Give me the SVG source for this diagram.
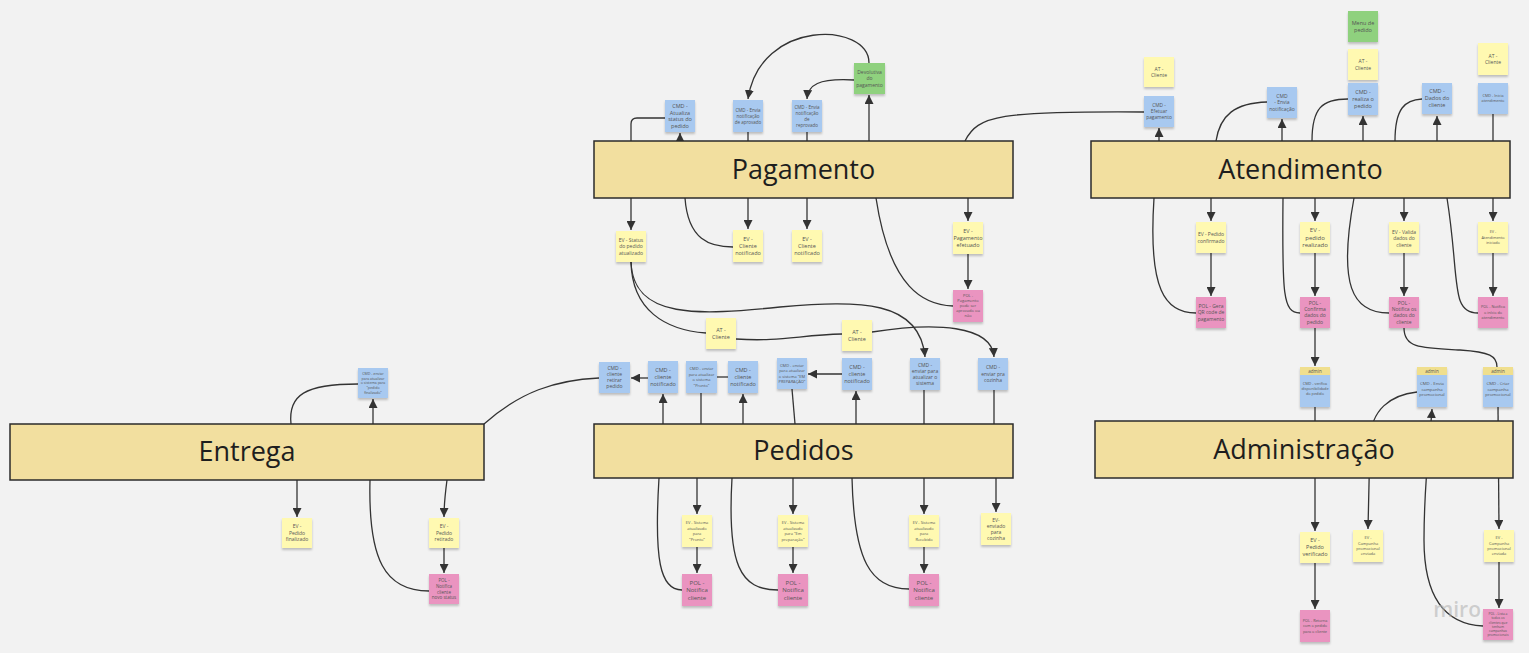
<svg xmlns="http://www.w3.org/2000/svg" width="1529" height="653" viewBox="0 0 1529 653">
<style>
.box{fill:#f2df9f;stroke:#2b2b2b;stroke-width:1.5}
.bt{font-family:"Open Sans","Liberation Sans",sans-serif;font-size:27px;fill:#1e1e1e;text-anchor:middle}
.y{fill:#fff9b1;filter:url(#sh)}
.b{fill:#a8c9f0;filter:url(#sh)}
.p{fill:#ea94c0;filter:url(#sh)}
.g{fill:#8fd17e;filter:url(#sh)}
.h{fill:#f0df8e}
.t{font-family:"Open Sans","Liberation Sans",sans-serif;fill:#555;text-anchor:middle}
.c path{fill:none;stroke:#333;stroke-width:1.3}
.c .a{marker-end:url(#ar)}
</style>
<defs>
<filter id="sh" x="-20%" y="-20%" width="140%" height="150%">
<feDropShadow dx="0" dy="2" stdDeviation="1.2" flood-color="#000" flood-opacity="0.22"/>
</filter>
<marker id="ar" markerUnits="userSpaceOnUse" markerWidth="9" markerHeight="9" refX="9" refY="4.5" orient="auto">
<path d="M0,0 L9,4.5 L0,9 z" fill="#333"/>
</marker>
</defs>
<rect width="1529" height="653" fill="#f2f2f2"/>

<g class="c" id="connectors">
<path d="M631,141 L631,124 Q631,118 637,118 L665,118"/>
<path class="a" d="M680,141 L680,133"/>
<path d="M748,132 L748,141"/>
<path d="M807,132 L807,141"/>
<path class="a" d="M869,141 L869,95"/>
<path class="a" d="M869,63 C869,22 760,18 748,99"/>
<path class="a" d="M854,80 C818,78 808,85 807,99"/>
<path class="a" d="M631,198 L631,230"/>
<path d="M685,198 C688,240 710,247 733,247"/>
<path class="a" d="M748,198 L748,229"/>
<path class="a" d="M807,198 L807,229"/>
<path d="M876,198 C890,290 925,305 953,306"/>
<path class="a" d="M968,198 L968,221"/>
<path class="a" d="M968,254 L968,289"/>
<path class="a" d="M631,262 C633,320 700,315 780,307 C860,300 920,300 925,357"/>
<path d="M631,262 C632,310 665,330 706,333"/>
<path d="M736,339 C780,342 800,335 842,334"/>
<path class="a" d="M872,332 C935,322 992,325 994,357"/>
<path d="M484,424 C520,392 555,380 599,378"/>
<path class="a" d="M648,378 L631,378"/>
<path class="a" d="M663,424 L663,394"/>
<path d="M701,424 L701,393"/>
<path d="M717,377 L728,377"/>
<path class="a" d="M743,424 L743,394"/>
<path d="M795,424 L792,389"/>
<path class="a" d="M842,374 L808,374"/>
<path class="a" d="M856,424 L856,391"/>
<path d="M924,424 L924,390"/>
<path d="M994,424 L994,390"/>
<path class="a" d="M697,478 L697,514"/>
<path class="a" d="M697,547 L697,573"/>
<path class="a" d="M793,478 L793,514"/>
<path class="a" d="M793,547 L793,573"/>
<path class="a" d="M924,478 L924,514"/>
<path class="a" d="M924,547 L924,573"/>
<path class="a" d="M996,478 L996,512"/>
<path d="M659,478 C654,560 660,590 682,590"/>
<path d="M732,478 C727,565 740,590 778,590"/>
<path d="M852,478 C854,560 870,589 909,589"/>
<path d="M291,424 C288,395 305,384 358,384"/>
<path class="a" d="M373,424 L373,399"/>
<path class="a" d="M297,480 L297,517"/>
<path class="a" d="M447,480 C445,495 444,505 444,517"/>
<path class="a" d="M444,548 L444,573"/>
<path d="M370,480 C368,560 385,591 429,591"/>
<path d="M965,141 C978,115 1000,111 1144,112"/>
<path class="a" d="M1159,141 L1159,128"/>
<path d="M1216,141 C1220,115 1235,103 1267,102"/>
<path class="a" d="M1282,141 L1282,119"/>
<path d="M1312,141 C1312,108 1322,99 1348,99"/>
<path class="a" d="M1363,141 L1363,116"/>
<path d="M1395,141 C1395,108 1405,100 1422,99"/>
<path class="a" d="M1437,141 L1437,116"/>
<path d="M1493,141 L1493,114"/>
<path class="a" d="M1211,198 L1211,221"/>
<path class="a" d="M1211,253 L1211,296"/>
<path class="a" d="M1315,198 L1315,221"/>
<path class="a" d="M1315,253 L1315,296"/>
<path class="a" d="M1404,198 L1404,221"/>
<path class="a" d="M1404,253 L1404,296"/>
<path class="a" d="M1493,198 L1493,221"/>
<path class="a" d="M1493,253 L1493,296"/>
<path d="M1154,198 C1148,290 1165,313 1196,313"/>
<path d="M1283,198 C1282,295 1283,313 1300,313"/>
<path d="M1354,198 C1338,285 1352,313 1389,313"/>
<path d="M1447,198 C1460,280 1450,313 1478,313"/>
<path class="a" d="M1315,328 L1315,366"/>
<path d="M1404,328 C1404,348 1420,348 1460,350 C1490,352 1497,356 1497,367"/>
<path class="a" d="M1315,407 L1315,531"/>
<path class="a" d="M1315,562 L1315,609"/>
<path class="a" d="M1417,392 C1390,395 1371,410 1370,440 L1368,529"/>
<path class="a" d="M1483,626 C1440,624 1424,590 1424,540 C1424,480 1430,440 1432,409"/>
<path class="a" d="M1498,407 L1499,529"/>
<path class="a" d="M1499,562 L1499,608"/>
</g>

<g id="pagamento"><rect class="box" x="594" y="141" width="419" height="57"/><text class="bt" x="803.5" y="179">Pagamento</text></g>
<g id="atendimento"><rect class="box" x="1091" y="141" width="419" height="57"/><text class="bt" x="1300.5" y="179">Atendimento</text></g>
<g id="entrega"><rect class="box" x="10" y="424" width="474" height="56"/><text class="bt" x="247" y="461">Entrega</text></g>
<g id="pedidos"><rect class="box" x="594" y="424" width="419" height="54"/><text class="bt" x="803.5" y="460">Pedidos</text></g>
<g id="administracao"><rect class="box" x="1095" y="421" width="418" height="57"/><text class="bt" x="1304" y="459">Administração</text></g>

<g id="n_cmd_atualiza"><rect class="b" x="665" y="100" width="30" height="32"/><text class="t" font-size="5.5"><tspan x="680" y="108.2">CMD -</tspan><tspan x="680" y="114.7">Atualiza</tspan><tspan x="680" y="121.2">status do</tspan><tspan x="680" y="127.7">pedido</tspan></text></g>
<g id="n_cmd_aprovado"><rect class="b" x="733" y="100" width="30" height="32"/><text class="t" font-size="4.5"><tspan x="748" y="111.6">CMD - Envia</tspan><tspan x="748" y="117.6">notificação</tspan><tspan x="748" y="123.6">de aprovado</tspan></text></g>
<g id="n_cmd_reprovado"><rect class="b" x="792" y="100" width="30" height="32"/><text class="t" font-size="4.5"><tspan x="807" y="108.6">CMD - Envia</tspan><tspan x="807" y="114.6">notificação</tspan><tspan x="807" y="120.6">de</tspan><tspan x="807" y="126.6">reprovado</tspan></text></g>
<g id="n_devolutiva"><rect class="g" x="854" y="63" width="31" height="31"/><text class="t" font-size="5"><tspan x="869.5" y="73.75">Devolutiva</tspan><tspan x="869.5" y="80.25">do</tspan><tspan x="869.5" y="86.75">pagamento</tspan></text></g>
<g id="n_ev_status"><rect class="y" x="616" y="231" width="30" height="31"/><text class="t" font-size="5"><tspan x="631" y="241.75">EV - Status</tspan><tspan x="631" y="248.25">do pedido</tspan><tspan x="631" y="254.75">atualizado</tspan></text></g>
<g id="n_ev_cliente1"><rect class="y" x="733" y="230" width="30" height="32"/><text class="t" font-size="5.5"><tspan x="748" y="240.9">EV -</tspan><tspan x="748" y="247.9">Cliente</tspan><tspan x="748" y="254.9">notificado</tspan></text></g>
<g id="n_ev_cliente2"><rect class="y" x="792" y="230" width="30" height="32"/><text class="t" font-size="5.5"><tspan x="807" y="240.9">EV -</tspan><tspan x="807" y="247.9">Cliente</tspan><tspan x="807" y="254.9">notificado</tspan></text></g>
<g id="n_ev_pagamento"><rect class="y" x="953" y="222" width="30" height="32"/><text class="t" font-size="5.5"><tspan x="968" y="232.9">EV -</tspan><tspan x="968" y="239.9">Pagamento</tspan><tspan x="968" y="246.9">efetuado</tspan></text></g>
<g id="n_pol_pagamento"><rect class="p" x="953" y="290" width="30" height="32"/><text class="t" font-size="4"><tspan x="968" y="297.4">POL -</tspan><tspan x="968" y="302.4">Pagamento</tspan><tspan x="968" y="307.4">pode ser</tspan><tspan x="968" y="312.4">aprovado ou</tspan><tspan x="968" y="317.4">não</tspan></text></g>
<g id="n_at1"><rect class="y" x="706" y="318" width="30" height="31"/><text class="t" font-size="5.5"><tspan x="721" y="331.9">AT -</tspan><tspan x="721" y="338.9">Cliente</tspan></text></g>
<g id="n_at2"><rect class="y" x="842" y="320" width="30" height="31"/><text class="t" font-size="5.5"><tspan x="857" y="333.9">AT -</tspan><tspan x="857" y="340.9">Cliente</tspan></text></g>

<g id="n_cmd_retirar"><rect class="b" x="599" y="362" width="31" height="31"/><text class="t" font-size="5"><tspan x="614.5" y="370.25">CMD -</tspan><tspan x="614.5" y="376.25">cliente</tspan><tspan x="614.5" y="382.25">retirar</tspan><tspan x="614.5" y="388.25">pedido</tspan></text></g>
<g id="n_cmd_notificado1"><rect class="b" x="648" y="361" width="30" height="32"/><text class="t" font-size="5.5"><tspan x="663" y="371.9">CMD -</tspan><tspan x="663" y="378.9">cliente</tspan><tspan x="663" y="385.9">notificado</tspan></text></g>
<g id="n_cmd_pronto"><rect class="b" x="686" y="361" width="31" height="32"/><text class="t" font-size="4"><tspan x="701.5" y="370.15">CMD - enviar</tspan><tspan x="701.5" y="375.65">para atualizar</tspan><tspan x="701.5" y="381.15">o sistema</tspan><tspan x="701.5" y="386.65">"Pronto"</tspan></text></g>
<g id="n_cmd_notificado2"><rect class="b" x="728" y="361" width="30" height="32"/><text class="t" font-size="5.5"><tspan x="743" y="371.9">CMD -</tspan><tspan x="743" y="378.9">cliente</tspan><tspan x="743" y="385.9">notificado</tspan></text></g>
<g id="n_cmd_emprep"><rect class="b" x="777" y="358" width="30" height="31"/><text class="t" font-size="4"><tspan x="792" y="366.65">CMD - enviar</tspan><tspan x="792" y="372.15">para atualizar</tspan><tspan x="792" y="377.65">o sistema "EM</tspan><tspan x="792" y="383.15">PREPARAÇÃO"</tspan></text></g>
<g id="n_cmd_notificado3"><rect class="b" x="842" y="358" width="30" height="32"/><text class="t" font-size="5.5"><tspan x="857" y="368.9">CMD -</tspan><tspan x="857" y="375.9">cliente</tspan><tspan x="857" y="382.9">notificado</tspan></text></g>
<g id="n_cmd_atualizar_sistema"><rect class="b" x="910" y="358" width="30" height="32"/><text class="t" font-size="5"><tspan x="925" y="366.75">CMD -</tspan><tspan x="925" y="372.75">enviar para</tspan><tspan x="925" y="378.75">atualizar o</tspan><tspan x="925" y="384.75">sistema</tspan></text></g>
<g id="n_cmd_cozinha"><rect class="b" x="978" y="358" width="30" height="32"/><text class="t" font-size="5"><tspan x="993" y="369.25">CMD -</tspan><tspan x="993" y="375.75">enviar pra</tspan><tspan x="993" y="382.25">cozinha</tspan></text></g>
<g id="n_ev_pronto"><rect class="y" x="682" y="515" width="30" height="32"/><text class="t" font-size="4"><tspan x="697" y="524.15">EV - Sistema</tspan><tspan x="697" y="529.65">atualizado</tspan><tspan x="697" y="535.15">para</tspan><tspan x="697" y="540.65">"Pronto"</tspan></text></g>
<g id="n_pol_notifica1"><rect class="p" x="682" y="574" width="30" height="32"/><text class="t" font-size="6"><tspan x="697" y="584.6">POL -</tspan><tspan x="697" y="592.1">Notifica</tspan><tspan x="697" y="599.6">cliente</tspan></text></g>
<g id="n_ev_emprep"><rect class="y" x="778" y="515" width="30" height="32"/><text class="t" font-size="4"><tspan x="793" y="524.15">EV - Sistema</tspan><tspan x="793" y="529.65">atualizado</tspan><tspan x="793" y="535.15">para "Em</tspan><tspan x="793" y="540.65">preparação"</tspan></text></g>
<g id="n_pol_notifica2"><rect class="p" x="778" y="574" width="30" height="32"/><text class="t" font-size="6"><tspan x="793" y="584.6">POL -</tspan><tspan x="793" y="592.1">Notifica</tspan><tspan x="793" y="599.6">cliente</tspan></text></g>
<g id="n_ev_recebido"><rect class="y" x="909" y="515" width="30" height="32"/><text class="t" font-size="4"><tspan x="924" y="524.15">EV - Sistema</tspan><tspan x="924" y="529.65">atualizado</tspan><tspan x="924" y="535.15">para</tspan><tspan x="924" y="540.65">Recebido</tspan></text></g>
<g id="n_pol_notifica3"><rect class="p" x="909" y="574" width="30" height="32"/><text class="t" font-size="6"><tspan x="924" y="584.6">POL -</tspan><tspan x="924" y="592.1">Notifica</tspan><tspan x="924" y="599.6">cliente</tspan></text></g>
<g id="n_ev_cozinha"><rect class="y" x="981" y="513" width="30" height="32"/><text class="t" font-size="5"><tspan x="996" y="521.75">EV-</tspan><tspan x="996" y="527.75">enviado</tspan><tspan x="996" y="533.75">para</tspan><tspan x="996" y="539.75">cozinha</tspan></text></g>

<g id="n_cmd_finalizado"><rect class="b" x="358" y="368" width="30" height="30"/><text class="t" font-size="3.6"><tspan x="373" y="374.7">CMD - enviar</tspan><tspan x="373" y="379.5">para atualizar</tspan><tspan x="373" y="384.3">o sistema para</tspan><tspan x="373" y="389.1">"pedido</tspan><tspan x="373" y="393.9">finalizado"</tspan></text></g>
<g id="n_ev_finalizado"><rect class="y" x="282" y="518" width="30" height="30"/><text class="t" font-size="5"><tspan x="297" y="528.25">EV -</tspan><tspan x="297" y="534.75">Pedido</tspan><tspan x="297" y="541.25">finalizado</tspan></text></g>
<g id="n_ev_retirado"><rect class="y" x="429" y="518" width="30" height="30"/><text class="t" font-size="5"><tspan x="444" y="528.25">EV -</tspan><tspan x="444" y="534.75">Pedido</tspan><tspan x="444" y="541.25">retirado</tspan></text></g>
<g id="n_pol_status"><rect class="p" x="429" y="574" width="30" height="30"/><text class="t" font-size="4.5"><tspan x="444" y="581.9">POL -</tspan><tspan x="444" y="587.7">Notifica</tspan><tspan x="444" y="593.5">cliente</tspan><tspan x="444" y="599.3">novo status</tspan></text></g>

<g id="n_at3"><rect class="y" x="1144" y="57" width="30" height="30"/><text class="t" font-size="5"><tspan x="1159" y="70.5">AT -</tspan><tspan x="1159" y="77">Cliente</tspan></text></g>
<g id="n_cmd_efetuar"><rect class="b" x="1144" y="96" width="30" height="31"/><text class="t" font-size="4.8"><tspan x="1159" y="107.2">CMD -</tspan><tspan x="1159" y="113.2">Efetuar</tspan><tspan x="1159" y="119.2">pagamento</tspan></text></g>
<g id="n_cmd_envia"><rect class="b" x="1267" y="87" width="30" height="31"/><text class="t" font-size="5"><tspan x="1282" y="97.95">CMD</tspan><tspan x="1282" y="104.25">- Envia</tspan><tspan x="1282" y="110.55">notificação</tspan></text></g>
<g id="n_menu"><rect class="g" x="1348" y="11" width="30" height="31"/><text class="t" font-size="5.5"><tspan x="1363" y="24.9">Menu de</tspan><tspan x="1363" y="31.9">pedido</tspan></text></g>
<g id="n_at4"><rect class="y" x="1348" y="49" width="30" height="31"/><text class="t" font-size="5"><tspan x="1363" y="63">AT -</tspan><tspan x="1363" y="69.5">Cliente</tspan></text></g>
<g id="n_cmd_realiza"><rect class="b" x="1348" y="83" width="30" height="32"/><text class="t" font-size="5.5"><tspan x="1363" y="93.9">CMD -</tspan><tspan x="1363" y="100.9">realiza o</tspan><tspan x="1363" y="107.9">pedido</tspan></text></g>
<g id="n_cmd_dados"><rect class="b" x="1422" y="83" width="30" height="31"/><text class="t" font-size="5.5"><tspan x="1437" y="93.4">CMD -</tspan><tspan x="1437" y="100.4">Dados do</tspan><tspan x="1437" y="107.4">cliente</tspan></text></g>
<g id="n_at5"><rect class="y" x="1478" y="43" width="30" height="32"/><text class="t" font-size="5"><tspan x="1493" y="57.5">AT -</tspan><tspan x="1493" y="64">Cliente</tspan></text></g>
<g id="n_cmd_inicia"><rect class="b" x="1478" y="83" width="30" height="31"/><text class="t" font-size="3.8"><tspan x="1493" y="97.4">CMD - Inicia</tspan><tspan x="1493" y="102.2">atendimento</tspan></text></g>
<g id="n_ev_confirmado"><rect class="y" x="1196" y="222" width="30" height="31"/><text class="t" font-size="5"><tspan x="1211" y="236">EV - Pedido</tspan><tspan x="1211" y="242.5">confirmado</tspan></text></g>
<g id="n_pol_qr"><rect class="p" x="1196" y="297" width="30" height="31"/><text class="t" font-size="5"><tspan x="1211" y="307.75">POL - Gera</tspan><tspan x="1211" y="314.25">QR code de</tspan><tspan x="1211" y="320.75">pagamento</tspan></text></g>
<g id="n_ev_realizado"><rect class="y" x="1300" y="222" width="30" height="31"/><text class="t" font-size="6"><tspan x="1315" y="232.1">EV -</tspan><tspan x="1315" y="239.6">pedido</tspan><tspan x="1315" y="247.1">realizado</tspan></text></g>
<g id="n_pol_confirma"><rect class="p" x="1300" y="297" width="30" height="31"/><text class="t" font-size="5"><tspan x="1315" y="304.8">POL -</tspan><tspan x="1315" y="311.1">Confirma</tspan><tspan x="1315" y="317.4">dados do</tspan><tspan x="1315" y="323.7">pedido</tspan></text></g>
<g id="n_ev_valida"><rect class="y" x="1389" y="222" width="30" height="31"/><text class="t" font-size="5"><tspan x="1404" y="233.75">EV - Valida</tspan><tspan x="1404" y="240.25">dados do</tspan><tspan x="1404" y="246.75">cliente</tspan></text></g>
<g id="n_pol_notifica_dados"><rect class="p" x="1389" y="297" width="30" height="31"/><text class="t" font-size="5"><tspan x="1404" y="304.8">POL -</tspan><tspan x="1404" y="311.1">Notifica os</tspan><tspan x="1404" y="317.4">dados do</tspan><tspan x="1404" y="323.7">cliente</tspan></text></g>
<g id="n_ev_iniciado"><rect class="y" x="1478" y="222" width="30" height="31"/><text class="t" font-size="3.8"><tspan x="1493" y="233.3">EV -</tspan><tspan x="1493" y="238.8">Atendimento</tspan><tspan x="1493" y="244.3">iniciado</tspan></text></g>
<g id="n_pol_inicio"><rect class="p" x="1478" y="297" width="30" height="31"/><text class="t" font-size="3.8"><tspan x="1493" y="308.3">POL - Notifica</tspan><tspan x="1493" y="313.8">o início do</tspan><tspan x="1493" y="319.3">atendimento</tspan></text></g>

<g id="n_admin1"><rect class="b" x="1300" y="367" width="30" height="40"/><rect class="h" x="1300" y="367" width="30" height="8"/><text class="t" font-size="4.5" x="1315" y="372.8">admin</text><text class="t" font-size="3.8"><tspan x="1315" y="385.3">CMD - verifica</tspan><tspan x="1315" y="390.3">disponibilidade</tspan><tspan x="1315" y="395.3">do pedido</tspan></text></g>
<g id="n_admin2"><rect class="b" x="1417" y="367" width="30" height="40"/><rect class="h" x="1417" y="367" width="30" height="8"/><text class="t" font-size="4.5" x="1432" y="372.8">admin</text><text class="t" font-size="4.3"><tspan x="1432" y="385">CMD - Envia</tspan><tspan x="1432" y="390.5">campanha</tspan><tspan x="1432" y="396">promocional</tspan></text></g>
<g id="n_admin3"><rect class="b" x="1483" y="367" width="30" height="40"/><rect class="h" x="1483" y="367" width="30" height="8"/><text class="t" font-size="4.5" x="1498" y="372.8">admin</text><text class="t" font-size="4.3"><tspan x="1498" y="385">CMD - Criar</tspan><tspan x="1498" y="390.5">campanha</tspan><tspan x="1498" y="396">promocional</tspan></text></g>
<g id="n_ev_verificado"><rect class="y" x="1300" y="532" width="30" height="31"/><text class="t" font-size="5.5"><tspan x="1315" y="542.4">EV -</tspan><tspan x="1315" y="549.4">Pedido</tspan><tspan x="1315" y="556.4">verificado</tspan></text></g>
<g id="n_pol_retorna"><rect class="p" x="1300" y="610" width="30" height="32"/><text class="t" font-size="3.8"><tspan x="1315" y="621.8">POL - Retorna</tspan><tspan x="1315" y="627.3">com o pedido</tspan><tspan x="1315" y="632.8">para o cliente</tspan></text></g>
<g id="n_ev_campanha1"><rect class="y" x="1353" y="530" width="30" height="32"/><text class="t" font-size="4"><tspan x="1368" y="539.45">EV -</tspan><tspan x="1368" y="544.75">Campanha</tspan><tspan x="1368" y="550.05">promocional</tspan><tspan x="1368" y="555.35">enviada</tspan></text></g>
<g id="n_ev_campanha2"><rect class="y" x="1484" y="530" width="30" height="32"/><text class="t" font-size="4"><tspan x="1499" y="539.45">EV -</tspan><tspan x="1499" y="544.75">Campanha</tspan><tspan x="1499" y="550.05">promocional</tspan><tspan x="1499" y="555.35">enviada</tspan></text></g>
<g id="n_pol_lista"><rect class="p" x="1483" y="609" width="30" height="31"/><text class="t" font-size="3.3"><tspan x="1498" y="615.2">POL - Lista a</tspan><tspan x="1498" y="619.4">todos os</tspan><tspan x="1498" y="623.6">clientes que</tspan><tspan x="1498" y="627.8">tenham</tspan><tspan x="1498" y="632">campanhas</tspan><tspan x="1498" y="636.2">promocionais</tspan></text></g>

<text x="1481" y="617" font-family="'Open Sans','Liberation Sans',sans-serif" font-size="21" font-weight="600" fill="#b4b4b4" fill-opacity="0.6" text-anchor="end">miro</text>
</svg>
